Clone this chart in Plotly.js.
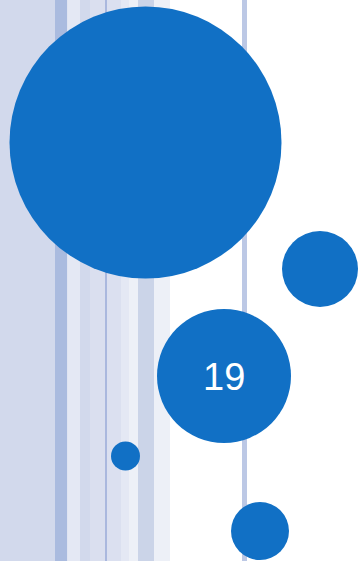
<!DOCTYPE html>
<html>
<head>
<meta charset="utf-8">
<script src="https://cdn.plot.ly/plotly-3.0.1.min.js"></script>
<style>html,body{margin:0;padding:0;background:#fff;}#chart{width:362px;height:561px;}</style>
</head>
<body>
<div id="chart"></div>
<script>
// Background stripes: left edge, right edge
var stripeLeft  = [0, 55, 67, 68, 80, 90, 105, 106.5, 121, 129, 138, 154, 242];
var stripeRight = [55, 67, 68, 80, 90, 105, 106.5, 121, 129, 138, 154, 170, 247];
var stripeColor = ['#d2d9ec','#aabbdf','#dfe4f2','#e4e8f4','#d2d9ec','#dadfef','#aab8de','#dbe0f0','#e4e8f4','#edf0f7','#cbd4e8','#edf0f7','#bcc8e5'];

// Circles: centre x, centre y, radius
var circleX = [145.5, 320, 224, 125.5, 260];
var circleY = [142.5, 269, 376, 456, 531];
var circleR = [136, 38, 67, 14.5, 29];
var circleLabel = ['', '', '19', '', ''];

var W = 362, H = 561;

var stripes = {
  type: 'bar',
  x: stripeLeft.map(function(l, i){ return (l + stripeRight[i]) / 2; }),
  width: stripeLeft.map(function(l, i){ return stripeRight[i] - l; }),
  y: stripeLeft.map(function(){ return H; }),
  base: 0,
  marker: {color: stripeColor, line: {width: 0}},
  hoverinfo: 'skip',
  showlegend: false
};

var circles = {
  type: 'scatter',
  mode: 'markers',
  x: circleX,
  y: circleY,
  marker: {
    size: circleR.map(function(r){ return 2 * r; }),
    sizemode: 'diameter',
    color: '#1170c5',
    opacity: 1,
    line: {width: 0}
  },
  hoverinfo: 'skip',
  showlegend: false,
  cliponaxis: false
};

var annotations = [];
circleLabel.forEach(function(t, i){
  if (!t) return;
  annotations.push({
    x: circleX[i], y: circleY[i], xref: 'x', yref: 'y',
    text: t, showarrow: false, xanchor: 'center', yanchor: 'middle',
    yshift: -1,
    font: {family: 'Liberation Sans, Arial, sans-serif', size: 38, color: '#ffffff'}
  });
});

var layout = {
  width: W, height: H,
  margin: {l: 0, r: 0, t: 0, b: 0, pad: 0},
  paper_bgcolor: '#ffffff',
  plot_bgcolor: '#ffffff',
  xaxis: {range: [0, W], visible: false, fixedrange: true},
  yaxis: {range: [H, 0], visible: false, fixedrange: true},
  bargap: 0,
  showlegend: false,
  annotations: annotations
};

Plotly.newPlot('chart', [stripes, circles], layout, {displayModeBar: false, staticPlot: true});
</script>
</body>
</html>
